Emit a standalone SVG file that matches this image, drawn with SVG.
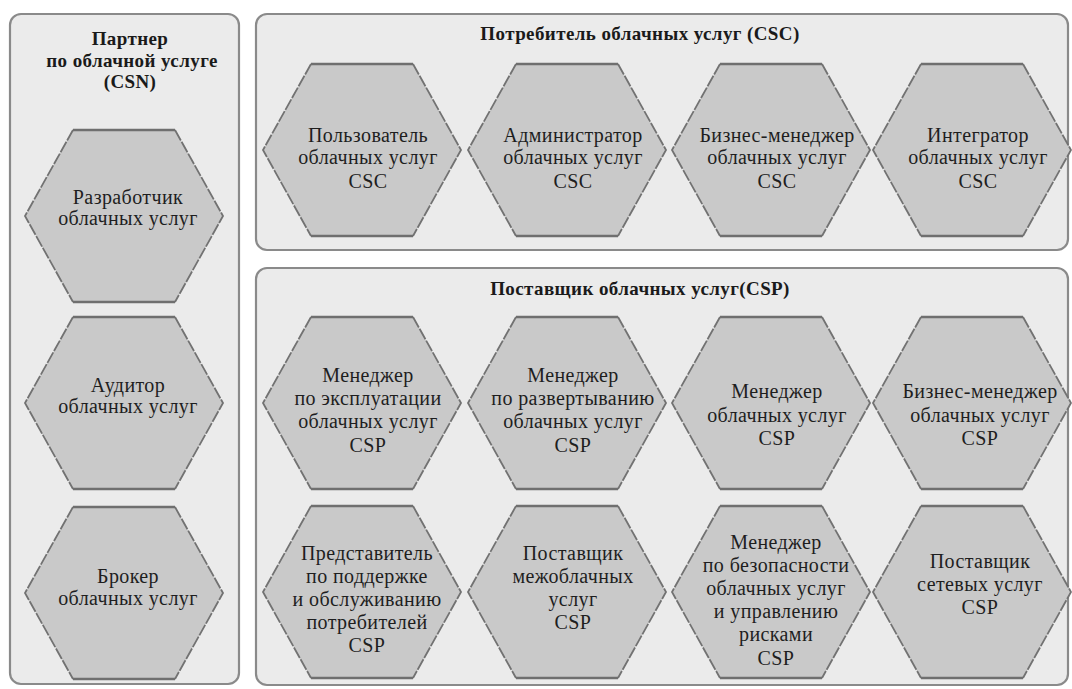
<svg xmlns="http://www.w3.org/2000/svg" xmlns:xlink="http://www.w3.org/1999/xlink" width="1072" height="689" viewBox="0 0 1072 689">
  <style>
    .panel { fill: #ebebeb; stroke: #8a8a8a; stroke-width: 2.2; }
    .hexfill { fill: #c9c9c9; stroke: none; }
    .hexflat { fill: none; stroke: #6f6f6f; stroke-width: 2.6; }
    .hexside { fill: none; stroke: #727272; stroke-width: 1.8; stroke-dasharray: 12 1.5; }
    .title { font-weight: bold; font-size: 19px; fill: #1a1a1a; text-anchor: middle; letter-spacing: 0.4px; }
    .label { font-size: 20px; fill: #1e1e1e; text-anchor: middle; letter-spacing: 0.4px; }
  </style>
  <defs>
    <!-- flat-topped hexagon centred on the origin -->
    <g id="hex">
      <polygon class="hexfill" points="-51,-86 51,-86 99,0 51,86 -51,86 -99,0"/>
      <path class="hexside" d="M51,-86 L99,0 L51,86 M-51,-86 L-99,0 L-51,86"/>
      <path class="hexflat" d="M-51,-86 H51 M-51,86 H51"/>
    </g>
  </defs>

  <rect width="1072" height="689" fill="#ffffff"/>

  <g font-family="Liberation Serif, Tinos, Times New Roman, DejaVu Serif, serif">
  <!-- group panels -->
  <g id="csn-panel">
    <rect class="panel" x="10" y="14" width="229" height="670" rx="11"/>
    <text class="title" x="130" y="45">Партнер</text>
    <text class="title" x="132" y="67">по облачной услуге</text>
    <text class="title" x="130" y="88">(CSN)</text>
  </g>
  <g id="csc-panel">
    <rect class="panel" x="256" y="14" width="812" height="236" rx="11"/>
    <text class="title" x="640" y="40">Потребитель облачных услуг (CSC)</text>
  </g>
  <g id="csp-panel">
    <rect class="panel" x="256" y="268" width="812" height="417" rx="11"/>
    <text class="title" x="640" y="295">Поставщик облачных услуг(CSP)</text>
  </g>

  <!-- no connectors in this diagram -->
  <g id="connectors"/>

  <!-- CSN roles -->
  <g id="csn-developer">
    <use xlink:href="#hex" transform="translate(124,216)"/>
    <text class="label" x="128" y="204">Разработчик</text>
    <text class="label" x="128" y="225">облачных услуг</text>
  </g>
  <g id="csn-auditor">
    <use xlink:href="#hex" transform="translate(124,403)"/>
    <text class="label" x="128" y="392">Аудитор</text>
    <text class="label" x="128" y="413">облачных услуг</text>
  </g>
  <g id="csn-broker">
    <use xlink:href="#hex" transform="translate(124,593)"/>
    <text class="label" x="128" y="583">Брокер</text>
    <text class="label" x="128" y="605">облачных услуг</text>
  </g>

  <!-- CSC roles -->
  <g id="csc-user">
    <use xlink:href="#hex" transform="translate(362,150)"/>
    <text class="label" x="368" y="142">Пользователь</text>
    <text class="label" x="368" y="164">облачных услуг</text>
    <text class="label" x="368" y="188">CSC</text>
  </g>
  <g id="csc-admin">
    <use xlink:href="#hex" transform="translate(567,150)"/>
    <text class="label" x="573" y="142">Администратор</text>
    <text class="label" x="573" y="164">облачных услуг</text>
    <text class="label" x="573" y="188">CSC</text>
  </g>
  <g id="csc-business-manager">
    <use xlink:href="#hex" transform="translate(771,150)"/>
    <text class="label" x="777" y="142">Бизнес-менеджер</text>
    <text class="label" x="777" y="164">облачных услуг</text>
    <text class="label" x="777" y="188">CSC</text>
  </g>
  <g id="csc-integrator">
    <use xlink:href="#hex" transform="translate(972,150)"/>
    <text class="label" x="978" y="142">Интегратор</text>
    <text class="label" x="978" y="164">облачных услуг</text>
    <text class="label" x="978" y="188">CSC</text>
  </g>

  <!-- CSP roles, first row -->
  <g id="csp-operations-manager">
    <use xlink:href="#hex" transform="translate(362,403)"/>
    <text class="label" x="368" y="382">Менеджер</text>
    <text class="label" x="368" y="405">по эксплуатации</text>
    <text class="label" x="368" y="428">облачных услуг</text>
    <text class="label" x="368" y="452">CSP</text>
  </g>
  <g id="csp-deployment-manager">
    <use xlink:href="#hex" transform="translate(567,403)"/>
    <text class="label" x="573" y="382">Менеджер</text>
    <text class="label" x="573" y="405">по развертыванию</text>
    <text class="label" x="573" y="428">облачных услуг</text>
    <text class="label" x="573" y="452">CSP</text>
  </g>
  <g id="csp-service-manager">
    <use xlink:href="#hex" transform="translate(771,403)"/>
    <text class="label" x="777" y="398">Менеджер</text>
    <text class="label" x="777" y="422">облачных услуг</text>
    <text class="label" x="777" y="445">CSP</text>
  </g>
  <g id="csp-business-manager">
    <use xlink:href="#hex" transform="translate(972,403)"/>
    <text class="label" x="980" y="398">Бизнес-менеджер</text>
    <text class="label" x="980" y="422">облачных услуг</text>
    <text class="label" x="980" y="445">CSP</text>
  </g>

  <!-- CSP roles, second row -->
  <g id="csp-customer-support">
    <use xlink:href="#hex" transform="translate(362,592)"/>
    <text class="label" x="367" y="560">Представитель</text>
    <text class="label" x="367" y="583">по поддержке</text>
    <text class="label" x="367" y="606">и обслуживанию</text>
    <text class="label" x="367" y="629">потребителей</text>
    <text class="label" x="367" y="652">CSP</text>
  </g>
  <g id="csp-intercloud-provider">
    <use xlink:href="#hex" transform="translate(567,592)"/>
    <text class="label" x="573" y="560">Поставщик</text>
    <text class="label" x="573" y="583">межоблачных</text>
    <text class="label" x="573" y="606">услуг</text>
    <text class="label" x="573" y="629">CSP</text>
  </g>
  <g id="csp-security-risk-manager">
    <use xlink:href="#hex" transform="translate(771,592)"/>
    <text class="label" x="776" y="549">Менеджер</text>
    <text class="label" x="776" y="572">по безопасности</text>
    <text class="label" x="776" y="595">облачных услуг</text>
    <text class="label" x="776" y="618">и управлению</text>
    <text class="label" x="776" y="641">рисками</text>
    <text class="label" x="776" y="665">CSP</text>
  </g>
  <g id="csp-network-provider">
    <use xlink:href="#hex" transform="translate(972,592)"/>
    <text class="label" x="980" y="568">Поставщик</text>
    <text class="label" x="980" y="591">сетевых услуг</text>
    <text class="label" x="980" y="614">CSP</text>
  </g>
  </g>
</svg>
